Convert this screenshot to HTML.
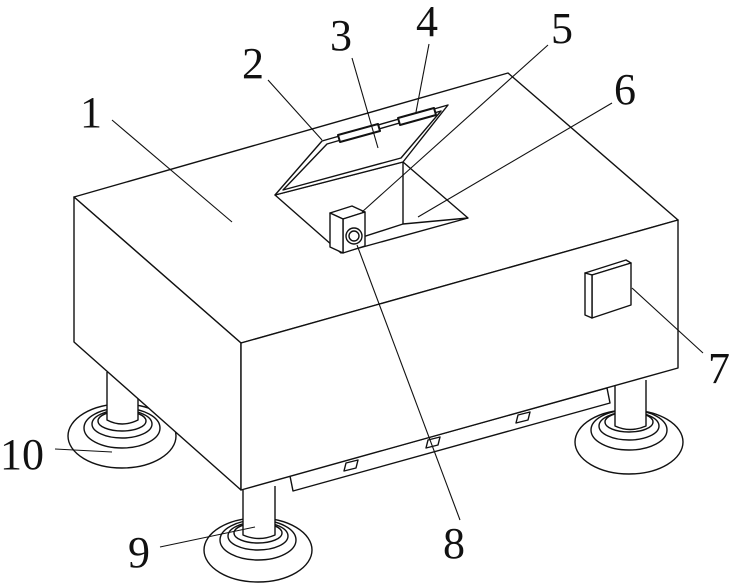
<!DOCTYPE html>
<html><head><meta charset="utf-8"><style>
html,body{margin:0;padding:0;background:#fff;}
svg{display:block;}
text{font-family:"Liberation Serif",serif;font-size:44px;fill:#111;}
</style></head><body>
<svg width="734" height="586" viewBox="0 0 734 586" xmlns="http://www.w3.org/2000/svg">
<g fill="none" stroke="#111" stroke-width="1.4" stroke-linejoin="round">
<!-- rail under right face -->
<polygon points="290,476 607,388 610,403 293,491" fill="#fff"/>
<!-- back-left leg -->
<ellipse cx="122" cy="436" rx="54" ry="32" fill="#fff"/>
<ellipse cx="122" cy="428" rx="38" ry="20"/>
<ellipse cx="122" cy="424" rx="30" ry="14"/>
<ellipse cx="122" cy="421" rx="24" ry="10"/>
<path d="M107,372 L107,420 Q122,428 138,420 L138,390" fill="#fff"/>
<!-- right leg -->
<ellipse cx="629" cy="442" rx="54" ry="32" fill="#fff"/>
<ellipse cx="629" cy="430" rx="38" ry="20"/>
<ellipse cx="629" cy="426" rx="30" ry="14"/>
<ellipse cx="629" cy="422" rx="24" ry="10"/>
<path d="M615,380 L615,426 Q630,433 646,426 L646,380" fill="#fff"/>
<!-- front leg -->
<ellipse cx="258" cy="550" rx="54" ry="32" fill="#fff"/>
<ellipse cx="258" cy="540" rx="38" ry="20"/>
<ellipse cx="258" cy="536" rx="30" ry="14"/>
<ellipse cx="258" cy="533" rx="24" ry="10"/>
<path d="M243,490 L243,535 Q259,542 275,535 L275,486" fill="#fff"/>
<!-- box -->
<polygon points="74,197 508,73 678,220 241,343" fill="#fff"/>
<polygon points="74,197 241,343 241,490 74,342" fill="#fff"/>
<polygon points="241,343 678,220 678,368 241,490" fill="#fff"/>
<!-- rail slots -->
<polygon points="346,463 358,460 356,468 344,471"/>
<polygon points="428,440 440,437 438,445 426,448"/>
<polygon points="518,415 530,412 528,420 516,423"/>
<!-- hatch opening -->
<polygon points="275,195 403,162 468,218 341,253" fill="#fff"/>
<line x1="403" y1="162" x2="403" y2="224"/>
<line x1="403" y1="224" x2="341" y2="244"/>
<line x1="403" y1="224" x2="468" y2="218"/>
<!-- lid -->
<polygon points="322,141 448,105 403,162 275,195" fill="#fff"/>
<polygon points="327,144 441,111 401,158 283,190"/>
<polygon points="338,135 378,124 380,131 340,142" fill="#fff" stroke-width="2"/>
<polygon points="398,118 434,108 436,115 400,125" fill="#fff" stroke-width="2"/>
<!-- sensor block -->
<polygon points="330,213 352,206 365,212 343,219" fill="#fff"/>
<polygon points="343,219 365,212 365,246 343,253" fill="#fff"/>
<polygon points="330,213 343,219 343,253 330,247" fill="#fff"/>
<circle cx="354" cy="236" r="8"/>
<circle cx="354" cy="236" r="5"/>
<!-- panel 7 -->
<polygon points="585,273 626,260 631,263 592,275" fill="#fff"/>
<polygon points="592,275 631,263 631,305 592,318" fill="#fff"/>
<polygon points="585,273 592,275 592,318 585,315" fill="#fff"/>
</g>
<!-- leaders -->
<g stroke="#111" stroke-width="1.1" fill="none">
<line x1="112" y1="120" x2="232" y2="222"/>
<line x1="268" y1="80" x2="322" y2="140"/>
<line x1="352" y1="58" x2="378" y2="148"/>
<line x1="429" y1="44" x2="416" y2="112"/>
<line x1="548" y1="45" x2="362" y2="212"/>
<line x1="612" y1="103" x2="418" y2="217"/>
<line x1="632" y1="288" x2="703" y2="353"/>
<line x1="460" y1="520" x2="357" y2="245"/>
<line x1="160" y1="547" x2="255" y2="527"/>
<line x1="55" y1="449" x2="112" y2="452"/>
</g>
<text x="80" y="127">1</text>
<text x="242" y="78">2</text>
<text x="330" y="50">3</text>
<text x="416" y="36">4</text>
<text x="551" y="43">5</text>
<text x="614" y="104">6</text>
<text x="708" y="383">7</text>
<text x="443" y="558">8</text>
<text x="128" y="567">9</text>
<text x="0" y="469">10</text>
</svg>
</body></html>
